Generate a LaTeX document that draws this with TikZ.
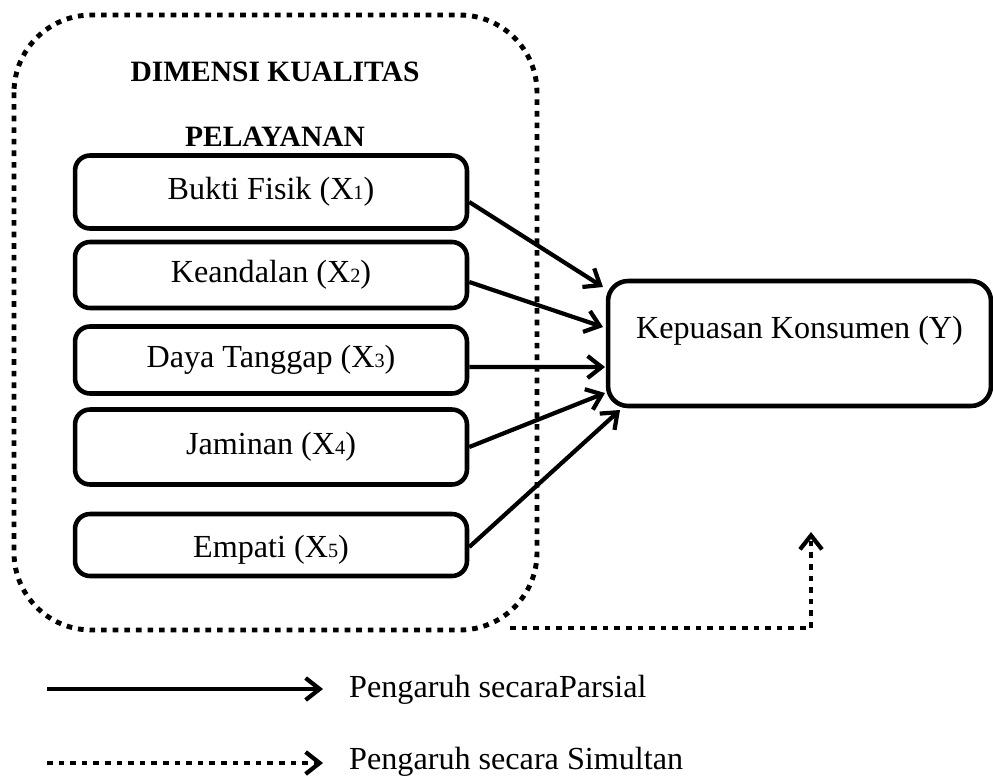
\documentclass[tikz,border=0pt]{standalone}
\usepackage{fontspec}
\setmainfont{Liberation Serif}
\usepackage{tikz}
\usetikzlibrary{arrows.meta,positioning,calc}
\newcommand{\idx}[1]{{\fontsize{11.5}{11.5}\selectfont #1}}

\begin{document}
\begin{tikzpicture}[x=0.02cm, y=-0.02cm,
  every node/.style={font=\fontsize{18.3}{22}\selectfont},
  varbox/.style={draw, line width=2.6pt, rounded corners=0.3cm, minimum width=7.84cm, inner sep=0pt},
  partial/.style={line width=2.4pt, -{Straight Barb[length=2.8mm, width=4.4mm]}},
  simul/.style={line width=2.8pt, dash pattern=on 3.2pt off 3.4pt, -{Straight Barb[length=2.8mm, width=4.4mm, line width=2.4pt]}}]
  \useasboundingbox (0,0) rectangle (993,778);
  % Dotted frame round the dimensions
  \draw[line width=2.8pt, dash pattern=on 3.2pt off 3.4pt, rounded corners=1.55cm] (14,15) rectangle (537,630);
  \node[font=\fontsize{16.8}{20}\selectfont\bfseries] (title1) at (275,72) {DIMENSI KUALITAS};
  \node[font=\fontsize{16.8}{20}\selectfont\bfseries] (title2) at (275,137) {PELAYANAN};
  % Dimension boxes
  \node[varbox, minimum height=1.46cm] (x1) at (271,192) {Bukti Fisik (X\idx{1})};
  \node[varbox, minimum height=1.32cm] (x2) at (271,275) {Keandalan (X\idx{2})};
  \node[varbox, minimum height=1.34cm] (x3) at (271,360) {Daya Tanggap (X\idx{3})};
  \node[varbox, minimum height=1.50cm] (x4) at (271,447) {Jaminan (X\idx{4})};
  \node[varbox, minimum height=1.24cm, label={[name=x5text, yshift=-0.1cm]center:Empati (X\idx{5})}] (x5) at (271,545) {};
  % Dependent variable
  \node[draw, line width=2.6pt, rounded corners=0.4cm, minimum width=7.66cm, minimum height=2.5cm,
    label={[name=ytext, yshift=0.26cm]center:Kepuasan Konsumen (Y)}] (y) at (799.5,343.5) {};
  % Arrow tips on the left side of Y
  \coordinate (t1) at (603,287);
  \coordinate (t2) at (603,327);
  \coordinate (t3) at (605,367);
  \coordinate (t4) at (605,393);
  \coordinate (t5) at (620,410);
  \draw[partial] ([yshift=-0.2cm]x1.east) -- (t1);
  \draw[partial] ([yshift=-0.14cm]x2.east) -- (t2);
  \draw[partial] ([yshift=-0.14cm]x3.east) -- (t3);
  \draw[partial] (x4.east) -- (t4);
  \draw[partial] ([yshift=-0.04cm]x5.east) -- (t5);
  % Simultaneous effect
  \coordinate (s0) at (510,628);
  \coordinate (s1) at (811,532);
  \draw[simul] (s0) -| (s1);
  % Legend
  \coordinate (l1a) at (47,689);
  \coordinate (l1b) at (323,689);
  \coordinate (l2a) at (47,763);
  \coordinate (l2b) at (323,763);
  \draw[partial] (l1a) -- (l1b);
  \draw[simul] (l2a) -- (l2b);
  \node[anchor=west] (parsial) at (343,690) {Pengaruh secaraParsial};
  \node[anchor=west] (simultan) at (343,762) {Pengaruh secara Simultan};
\end{tikzpicture}
\end{document}
